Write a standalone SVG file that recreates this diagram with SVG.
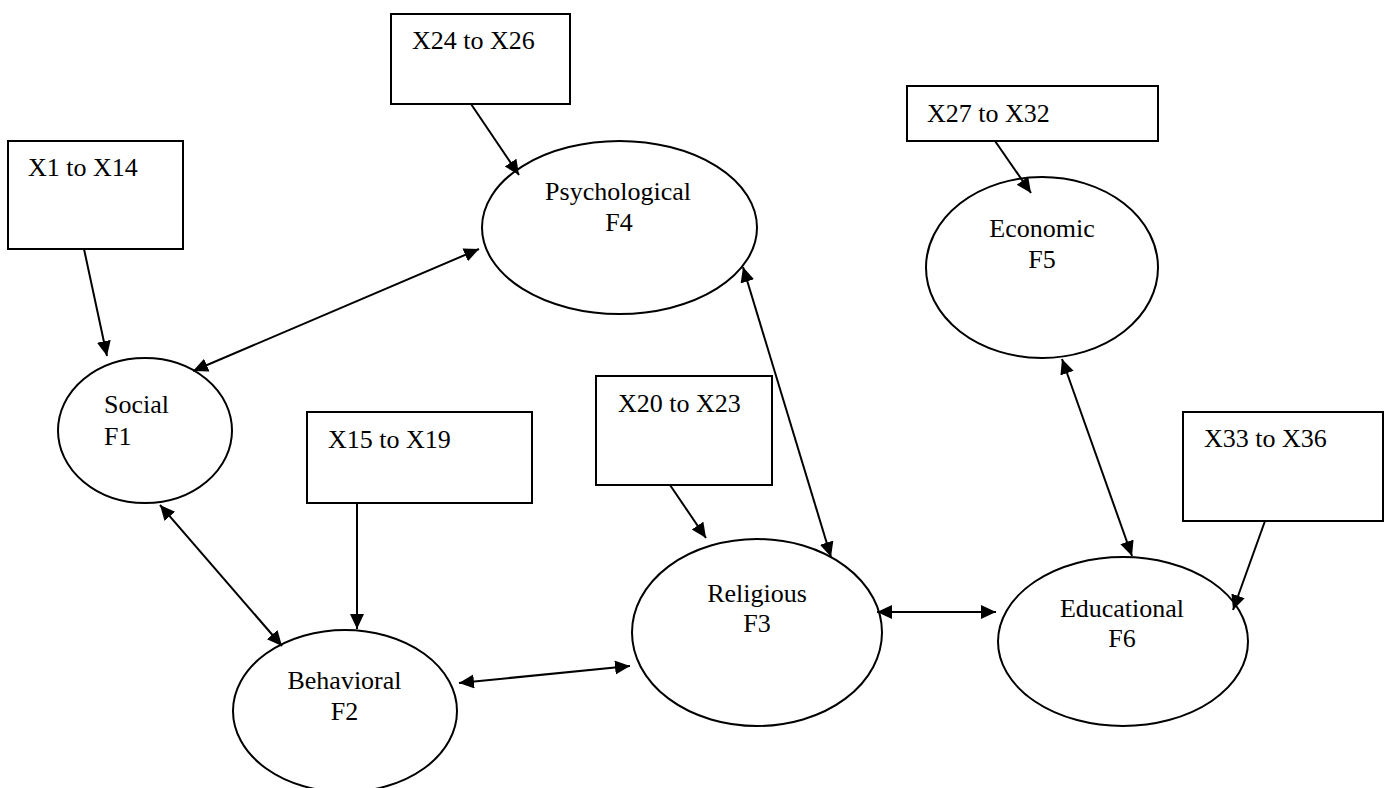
<svg xmlns="http://www.w3.org/2000/svg" width="1385" height="788" viewBox="0 0 1385 788">
<defs>
<marker id="ah" markerUnits="userSpaceOnUse" markerWidth="18" markerHeight="16" refX="15" refY="7" orient="auto-start-reverse">
<path d="M0,0 L15,7 L0,14 z" fill="#000"/>
</marker>
<style>
.box{fill:#fff;stroke:#000;stroke-width:2}
.ell{fill:#fff;stroke:#000;stroke-width:2}
.t{font-family:"Liberation Serif","Times New Roman",serif;font-size:26px;fill:#000}
.m{text-anchor:middle}
.c{stroke:#000;stroke-width:2;fill:none}
.one{marker-end:url(#ah)}
.two{marker-start:url(#ah);marker-end:url(#ah)}
</style>
</defs>
<rect width="1385" height="788" fill="#fff"/>
<g id="b1"><rect class="box" x="8" y="141" width="175" height="108"/><text class="t" x="28" y="176">X1 to X14</text></g>
<g id="b24"><rect class="box" x="391" y="14" width="179" height="90"/><text class="t" x="412" y="49">X24 to X26</text></g>
<g id="b27"><rect class="box" x="907" y="86" width="251" height="55"/><text class="t" x="927" y="122">X27 to X32</text></g>
<g id="b15"><rect class="box" x="307" y="412" width="225" height="91"/><text class="t" x="328" y="448">X15 to X19</text></g>
<g id="b20"><rect class="box" x="596" y="376" width="176" height="109"/><text class="t" x="618" y="412">X20 to X23</text></g>
<g id="b33"><rect class="box" x="1183" y="412" width="200" height="109"/><text class="t" x="1204" y="447">X33 to X36</text></g>
<g id="f4"><ellipse class="ell" cx="619.5" cy="227.5" rx="137.5" ry="86.5"/><text class="t m" x="618" y="200">Psychological</text><text class="t m" x="619" y="231">F4</text></g>
<g id="f1"><ellipse class="ell" cx="145" cy="430.5" rx="87" ry="72.5"/><text class="t" x="104" y="413">Social</text><text class="t" x="104" y="445">F1</text></g>
<g id="f5"><ellipse class="ell" cx="1042" cy="267.5" rx="116" ry="90.5"/><text class="t m" x="1042" y="237">Economic</text><text class="t m" x="1042" y="268">F5</text></g>
<g id="f2"><ellipse class="ell" cx="345" cy="711" rx="112" ry="81"/><text class="t m" x="344.5" y="689">Behavioral</text><text class="t m" x="344.5" y="720">F2</text></g>
<g id="f3"><ellipse class="ell" cx="757" cy="632.5" rx="125" ry="93.5"/><text class="t m" x="757" y="602">Religious</text><text class="t m" x="757" y="632">F3</text></g>
<g id="f6"><ellipse class="ell" cx="1123" cy="641.5" rx="125" ry="84.5"/><text class="t m" x="1122" y="617">Educational</text><text class="t m" x="1122" y="647">F6</text></g>
<g id="connectors">
<line class="c one" x1="84" y1="249" x2="107" y2="356"/>
<line class="c one" x1="471" y1="104" x2="519" y2="175"/>
<line class="c one" x1="995" y1="141" x2="1031" y2="193"/>
<line class="c one" x1="357" y1="503" x2="357" y2="629"/>
<line class="c one" x1="670" y1="485" x2="706" y2="538"/>
<line class="c one" x1="1265" y1="521" x2="1233" y2="610"/>
<line class="c two" x1="193" y1="371" x2="479" y2="249"/>
<line class="c two" x1="160" y1="505" x2="282" y2="646"/>
<line class="c two" x1="743" y1="267" x2="831" y2="557"/>
<line class="c two" x1="459" y1="683" x2="630" y2="666"/>
<line class="c two" x1="877" y1="612" x2="996" y2="612"/>
<line class="c two" x1="1062" y1="359" x2="1132" y2="556"/>
</g>
</svg>
